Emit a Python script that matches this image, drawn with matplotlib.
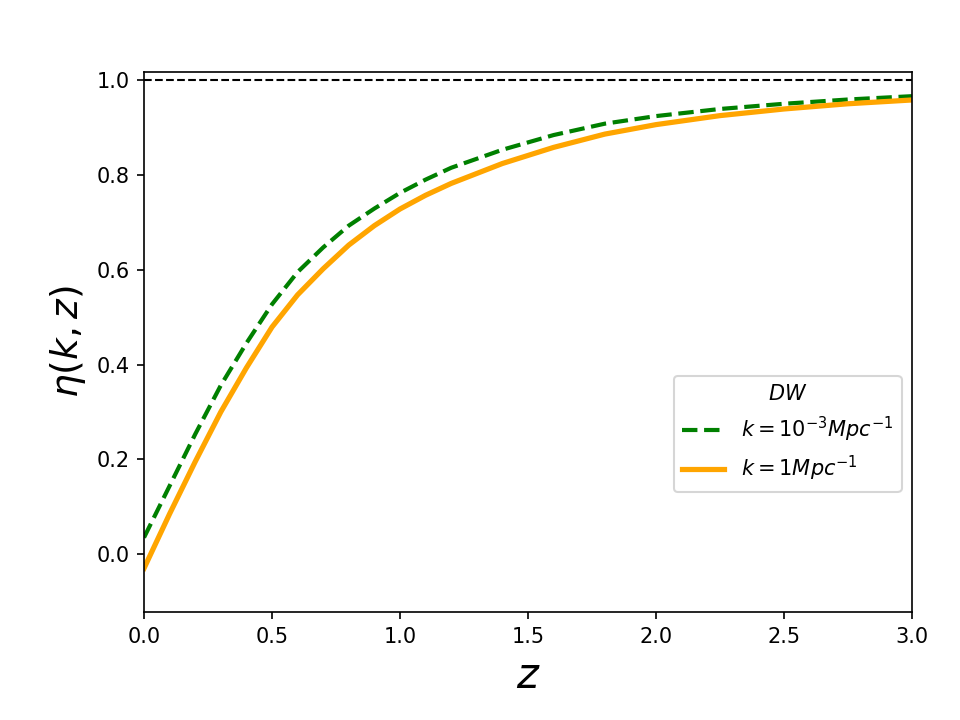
import numpy as np
import matplotlib
matplotlib.use('Agg')
import matplotlib.pyplot as plt

z_vals = [0.0, 0.1, 0.2, 0.3, 0.4, 0.5, 0.6, 0.7, 0.8, 0.9, 1.0, 1.1,
          1.2, 1.4, 1.6, 1.8, 2.0, 2.25, 2.5, 2.75, 3.0]
eta_k_small = [0.035, 0.144, 0.253, 0.356, 0.445, 0.527, 0.595, 0.647, 0.693, 0.729, 0.762, 0.79,
               0.815, 0.853, 0.884, 0.908, 0.924, 0.939, 0.950, 0.959, 0.966]
eta_k_large = [-0.03, 0.085, 0.195, 0.30, 0.393, 0.479, 0.547, 0.602, 0.652, 0.693, 0.728, 0.757,
               0.782, 0.824, 0.858, 0.886, 0.906, 0.925, 0.939, 0.95, 0.958]

fig, ax = plt.subplots(figsize=(6.4, 4.8), dpi=150)
fig.subplots_adjust(left=0.15, right=0.95, bottom=0.15, top=0.9)

ax.plot(z_vals, eta_k_small, '--', color='green', lw=2, label=r'$k=10^{-3}Mpc^{-1}$')
ax.plot(z_vals, eta_k_large, '-', color='orange', lw=2.5, label=r'$k=1Mpc^{-1}$')
ax.axhline(1.0, color='black', ls='--', lw=1)

ax.set_xlim(0, 3)
ax.set_ylim(-0.122, 1.017)
ax.set_xlabel(r'$z$', fontsize=20)
ax.set_ylabel(r'$\eta(k,z)$', fontsize=18)
ax.legend(title=r'$DW$', loc='center right', bbox_to_anchor=(1.0, 0.33))

fig.savefig('out.png', dpi=150)
